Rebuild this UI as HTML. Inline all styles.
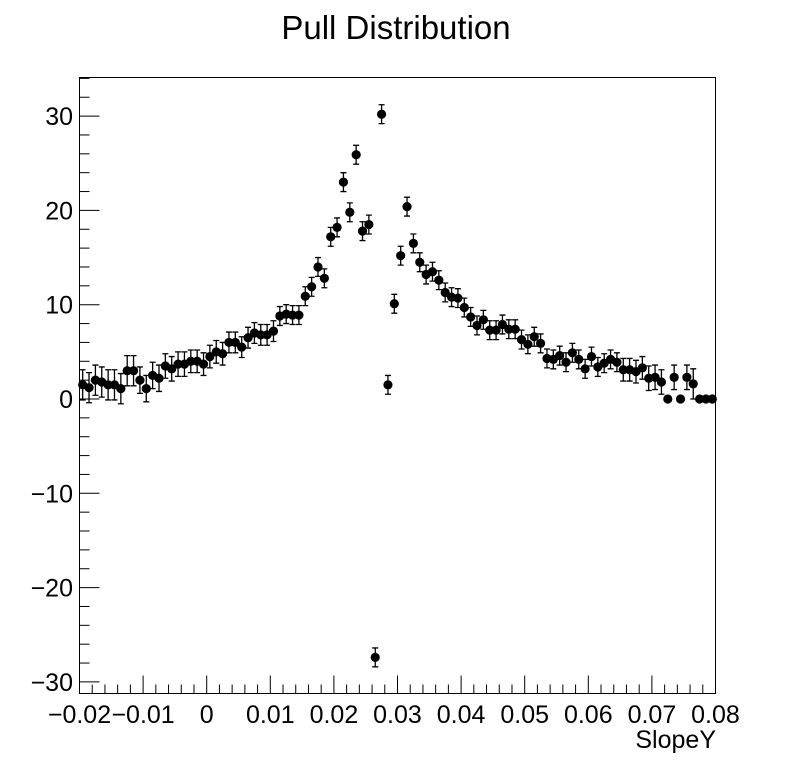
<!DOCTYPE html>
<html><head><meta charset="utf-8"><style>
body{margin:0;background:#fff;}
svg text{font-family:"Liberation Sans",sans-serif;}
</style></head><body>
<svg width="796" height="772" id="c">
<text x="396" y="39" font-size="33" text-anchor="middle">Pull Distribution</text>
<text x="716" y="748" font-size="25" text-anchor="end">SlopeY</text>
<rect x="79.5" y="77.5" width="636" height="616" fill="none" stroke="#000" stroke-width="1"/>
<g id="ticks"></g><g id="marks"></g>
</svg>
<script>
const values=[1.5,1.2,2.0,1.8,1.5,1.5,1.1,3.0,3.0,2.0,1.1,2.5,2.2,3.5,3.2,3.7,3.7,4.0,4.0,3.7,4.5,5.0,4.8,6.0,6.0,5.5,6.5,7.0,6.8,6.8,7.2,8.8,9.0,8.9,8.9,10.9,11.9,14.0,12.8,17.2,18.2,23.0,19.8,25.9,17.8,18.5,-27.4,30.2,1.5,10.1,15.2,20.4,16.5,14.5,13.2,13.5,12.6,11.3,10.8,10.7,9.7,8.7,7.8,8.4,7.3,7.3,7.9,7.4,7.4,6.3,5.8,6.6,5.9,4.3,4.2,4.6,3.9,4.9,4.2,3.2,4.5,3.4,3.8,4.2,3.9,3.1,3.1,2.9,3.3,2.2,2.3,1.8,0,2.3,0,2.3,1.6,0,0,0];
const errors=[1.6,1.6,1.6,1.6,1.6,1.6,1.6,1.6,1.6,1.4,1.4,1.4,1.4,1.3,1.3,1.3,1.3,1.2,1.2,1.2,1.2,1.2,1.2,1.1,1.1,1.1,1.1,1.1,1.1,1.1,1.1,1.0,1.0,1.0,1.0,1.0,1.0,1.0,1.0,1.0,1.0,1.0,1.0,1.0,1.0,1.0,1.0,1.0,1.0,1.0,1.0,1.0,1.0,1.0,1.0,1.0,1.0,1.0,1.0,1.0,1.0,1.0,1.0,1.0,1.0,1.0,1.0,1.0,1.0,1.0,1.0,1.0,1.0,1.0,1.0,1.0,1.0,1.0,1.0,1.0,1.0,1.0,1.0,1.0,1.0,1.2,1.2,1.2,1.2,1.3,1.3,1.3,0,1.3,0,1.3,1.6,0,0,0];
const xTickLabels=["\u22120.02","\u22120.01","0","0.01","0.02","0.03","0.04","0.05","0.06","0.07","0.08"];
const yTickLabels=["\u221230","\u221220","\u221210","0","10","20","30"];
const xMin=-0.02,xMax=0.08,binW=0.001;
function X(v){return 79.5+(v-xMin)/(xMax-xMin)*636;}
function Y(v){return 399-v*9.43;}
const NS="http://www.w3.org/2000/svg";
const tg=document.getElementById('ticks'),mg=document.getElementById('marks');
function el(t,a,p){const e=document.createElementNS(NS,t);for(const k in a)e.setAttribute(k,a[k]);p.appendChild(e);return e;}
for(let i=0;i<=50;i++){const v=xMin+i*0.002;const x=X(v);const L=i%5==0?18:9;
 const t=el('line',{x1:x,x2:x,y1:693.5,y2:693.5-L,stroke:'#000'},tg);
 
 }
xTickLabels.forEach((s,i)=>{const t=el('text',{x:X(xMin+i*0.01),y:723,'font-size':25,'text-anchor':'middle'},tg);t.textContent=s;
 
 });
for(let v=-30;v<=34;v+=2){const y=Y(v);const L=v%10==0?20:10;
 const t=el('line',{x1:79.5,x2:79.5+L,y1:y,y2:y,stroke:'#000'},tg);
 
 }
yTickLabels.forEach((s,i)=>{const t=el('text',{x:73,y:Y(-30+i*10)+9,'font-size':25,'text-anchor':'end'},tg);t.textContent=s;
 
 });
values.forEach((v,i)=>{const x=X(xMin+(i+0.5)*binW);const y=Y(v);const e=errors[i];
 if(e>0){const g=el('path',{d:`M${x},${Y(v+e)}V${Y(v-e)}M${x-3},${Y(v+e)}h6M${x-3},${Y(v-e)}h6`,stroke:'#000','stroke-width':1.3,fill:'none'},mg);
 
 }
 const c=el('circle',{cx:x,cy:y,r:4.6,fill:'#000'},mg);
 
 });
</script>
</body></html>
